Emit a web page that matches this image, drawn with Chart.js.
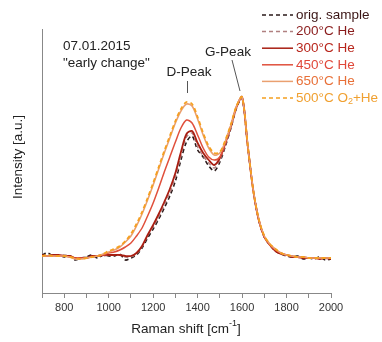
<!DOCTYPE html>
<html>
<head>
<meta charset="utf-8">
<script src="https://cdn.jsdelivr.net/npm/chart.js@4"></script>
<style>
  body { margin: 0; background: #fff; }
  canvas { display: block; }
</style>
</head>
<body>
<canvas id="raman" width="382" height="342"></canvas>
<script>
const wavenumbers = [700,725,750,775,800,825,850,875,900,925,950,975,1000,1025,1050,1075,1100,1125,1150,1175,1200,1225,1250,1275,1300,1325,1350,1375,1400,1425,1450,1475,1500,1525,1550,1575,1600,1625,1650,1675,1700,1725,1750,1775,1800,1825,1850,1875,1900,1925,1950,1975,2000];

const origSample = [38,40,37,38,36,37,33,35,36,38,35,38,37,37,39,33,35,38,45,55,64,74,85,97,112,133,151,157,143,136,127,122,131,147,165,185,195,148,103,73,56,48,42,39,37,36,37,34,35,34,36,33,34];
const he200 = [37,38,38,37,38,37,35,34,36,36,37,37,38,38,38,36,36,39,46,57,66,76,88,100,116,137,156,160,146,137,130,125,133,148,166,186,195,148,103,73,56,48,43,39,38,37,36,36,35,35,35,35,34];
const he300 = [38,37,38,38,37,37,35,35,35,37,37,38,38,38,38,37,37,40,47,58,68,79,91,104,120,141,159,162,150,140,133,128,135,150,167,186,196,148,103,73,56,48,42,39,38,36,36,35,35,35,34,35,34];
const he450 = [37,37,37,37,37,36,35,35,35,36,37,38,40,41,43,46,50,57,65,77,90,105,121,136,151,165,173,170,158,145,136,133,136,150,167,186,196,148,103,73,56,48,43,40,38,37,36,36,35,35,35,35,35];
const he650 = [37,37,37,37,37,36,34,34,35,36,37,39,41,43,46,51,57,67,79,93,108,124,140,155,170,182,189,187,174,158,145,138,140,152,168,187,196,149,103,74,57,49,44,40,38,37,36,36,35,35,35,35,35];
const o2he500 = [37,38,37,37,37,36,35,34,35,36,37,39,42,44,47,52,59,69,81,95,110,126,142,157,172,184,191,189,176,160,147,140,141,153,169,187,196,149,103,74,57,49,44,40,38,37,36,36,35,35,35,35,35];

const seriesNames = ['orig. sample', '200°C He', '300°C He', '450°C He', '650°C He', '500°C O2+He'];
const tickLabels = [800, 1000, 1200, 1400, 1600, 1800, 2000];

const lineColors = ['#2a1a1a', '#b08080', '#a81e12', '#e0503c', '#eaa070', '#f5a020'];
const textColors = ['#3a1515', '#8a1c1c', '#b8261c', '#e0483a', '#e87038', '#f0a030'];
const dashes = [[4, 3], [4, 3], [], [], [], [4, 3]];
const widths = [1.6, 1.4, 1.8, 1.5, 1.6, 1.8];

const allSeries = [origSample, he200, he300, he450, he650, o2he500];
const datasets = allSeries.map((vals, i) => ({
  label: seriesNames[i],
  data: wavenumbers.map((x, j) => ({ x: x, y: vals[j] })),
  borderColor: lineColors[i],
  borderDash: dashes[i],
  borderWidth: widths[i],
  pointRadius: 0,
  tension: 0.3,
  fill: false,
  order: 6 - i
}));

const FONT = '"Liberation Sans", Arial, sans-serif';
const BIG = '13.5px ' + FONT;

const decorations = {
  id: 'decorations',
  afterDraw(chart) {
    const ctx = chart.ctx;
    ctx.save();
    ctx.textBaseline = 'middle';
    ctx.textAlign = 'left';
    ctx.font = BIG;
    ctx.fillStyle = '#222';
    ctx.fillText('07.01.2015', 63, 46);
    ctx.fillText('"early change"', 63, 63);

    // peak labels
    ctx.textAlign = 'center';
    ctx.fillText('D-Peak', 189, 72);
    ctx.fillText('G-Peak', 228, 52);
    ctx.strokeStyle = '#555';
    ctx.lineWidth = 1;
    ctx.beginPath();
    ctx.moveTo(187.5, 81); ctx.lineTo(187.5, 93);
    ctx.moveTo(232, 60); ctx.lineTo(240, 91);
    ctx.stroke();

    // legend
    ctx.textAlign = 'left';
    seriesNames.forEach((name, i) => {
      const y = 15 + i * 16.6;
      ctx.strokeStyle = lineColors[i];
      ctx.lineWidth = 1.5;
      ctx.setLineDash(dashes[i]);
      ctx.beginPath();
      ctx.moveTo(262, y); ctx.lineTo(293, y);
      ctx.stroke();
      ctx.setLineDash([]);
      ctx.fillStyle = textColors[i];
      ctx.font = BIG;
      if (name.indexOf('O2') >= 0) {
        const a = '500°C O';
        ctx.fillText(a, 296, y);
        let x = 296 + ctx.measureText(a).width;
        ctx.font = '9px ' + FONT;
        ctx.fillText('2', x, y + 4);
        x += ctx.measureText('2').width;
        ctx.font = BIG;
        ctx.fillText('+He', x, y);
      } else {
        ctx.fillText(name, 296, y);
      }
    });

    // axis titles
    ctx.fillStyle = '#222';
    ctx.font = BIG;
    const t1 = 'Raman shift [cm';
    const w1 = ctx.measureText(t1).width;
    ctx.font = '9px ' + FONT;
    const w2 = ctx.measureText('-1').width;
    ctx.font = BIG;
    const w3 = ctx.measureText(']').width;
    let x0 = 186 - (w1 + w2 + w3) / 2;
    ctx.fillText(t1, x0, 329);
    ctx.font = '9px ' + FONT;
    ctx.fillText('-1', x0 + w1, 324);
    ctx.font = BIG;
    ctx.fillText(']', x0 + w1 + w2, 329);

    ctx.translate(18, 157);
    ctx.rotate(-Math.PI / 2);
    ctx.textAlign = 'center';
    ctx.fillText('Intensity [a.u.]', 0, 0);
    ctx.restore();
  }
};

new Chart(document.getElementById('raman'), {
  type: 'line',
  data: { datasets: datasets },
  options: {
    responsive: false,
    animation: false,
    layout: { padding: { top: 29, right: 51, left: 0, bottom: 0 } },
    plugins: { legend: { display: false }, tooltip: { enabled: false } },
    scales: {
      x: {
        type: 'linear',
        min: 700,
        max: 2000,
        afterFit: s => { s.height = 49; },
        ticks: {
          stepSize: 100,
          autoSkip: false,
          maxRotation: 0,
          padding: 3,
          color: '#333',
          font: { size: 11, family: FONT },
          callback: v => tickLabels.includes(v) ? String(v) : ''
        },
        grid: { drawOnChartArea: false, drawTicks: true, tickLength: 5, color: '#888' },
        border: { display: true, color: '#888', width: 1 }
      },
      y: {
        min: 0,
        max: 264,
        afterFit: s => { s.width = 42; },
        ticks: { display: false },
        grid: { drawOnChartArea: false, drawTicks: false },
        border: { display: true, color: '#888', width: 1 }
      }
    }
  },
  plugins: [decorations]
});
</script>
</body>
</html>
